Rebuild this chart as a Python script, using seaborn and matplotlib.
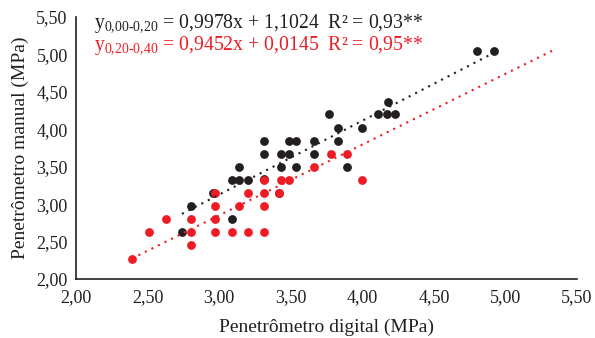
# scatter of manual vs digital penetrometer with dotted trend lines.

import matplotlib
matplotlib.use('Agg')
import matplotlib.pyplot as plt
import numpy as np
import pandas as pd
import seaborn as sns

# layer 0,00-0,20 m (black)
x_top = [3.31, 3.49, 3.54, 3.66, 3.83, 3.31, 3.43, 3.49, 3.66, 3.14, 3.43, 3.54,
         3.89, 3.09, 3.14, 3.20, 3.31, 2.96, 3.42, 2.80, 3.09, 2.74, 3.77, 3.83,
         4.00, 4.11, 4.17, 4.23, 4.18, 4.80, 4.92]
y_top = [3.84, 3.84, 3.84, 3.84, 3.84, 3.67, 3.67, 3.67, 3.67, 3.50, 3.50, 3.50,
         3.50, 3.32, 3.32, 3.32, 3.33, 3.15, 3.15, 2.97, 2.80, 2.63, 4.20, 4.02,
         4.02, 4.20, 4.20, 4.20, 4.37, 5.05, 5.05]

# layer 0,20-0,40 m (red)
x_sub = [2.39, 2.51, 2.63, 2.80, 2.80, 2.80, 2.97, 2.97, 2.97, 2.97, 3.09, 3.14,
         3.20, 3.20, 3.31, 3.31, 3.31, 3.31, 3.42, 3.43, 3.49, 3.78, 3.89, 3.66,
         4.00]
y_sub = [2.27, 2.63, 2.80, 2.45, 2.63, 2.80, 2.63, 2.80, 2.97, 3.15, 2.63, 2.97,
         3.15, 2.63, 2.63, 2.97, 3.15, 3.32, 3.15, 3.32, 3.32, 3.67, 3.67, 3.50,
         3.32]

# red trend as printed on the chart
sub_slope, sub_icpt = 0.9452, 0.0145

eq_top = r'$\mathrm{y}_{\text{0,00-0,20}}$ = 0,9978x + 1,1024  R² = 0,93**'
eq_sub = r'$\mathrm{y}_{\text{0,20-0,40}}$ = 0,9452x + 0,0145  R² = 0,95**'

BLACK = '#231f20'
RED = '#ed1c24'

sns.set_style('white')
plt.rcParams['font.family'] = ['Liberation Serif', 'DejaVu Serif']
plt.rcParams['mathtext.fontset'] = 'custom'
plt.rcParams['mathtext.rm'] = 'Liberation Serif'
plt.rcParams['mathtext.it'] = 'Liberation Serif:italic'

df_top = pd.DataFrame({'x': x_top, 'y': y_top})
df_sub = pd.DataFrame({'x': x_sub, 'y': y_sub})

fig = plt.figure(figsize=(5.95, 3.38), dpi=100)
ax = fig.add_axes([76 / 595, 1 - 279 / 338, (577 - 76) / 595, (279 - 17) / 338])

sns.scatterplot(data=df_top, x='x', y='y', color=BLACK, s=40, linewidth=0, ax=ax, zorder=2)
sns.scatterplot(data=df_sub, x='x', y='y', color=RED, s=40, linewidth=0, ax=ax, zorder=3)

# trend lines
k1, b1 = np.polyfit(x_top, y_top, 1)
xs1 = np.array([min(x_top), max(x_top)])
ax.plot(xs1, k1 * xs1 + b1, color=BLACK, lw=1.5, linestyle=(0, (1, 2.5)), zorder=4)
xs2 = np.array([min(x_sub), 5.35])
ax.plot(xs2, sub_slope * xs2 + sub_icpt, color=RED, lw=1.5, linestyle=(0, (1, 2.5)), zorder=4)

ax.text(0.035, 0.975, eq_top, transform=ax.transAxes, color=BLACK, fontsize=14.2, va='center')
ax.text(0.035, 0.89, eq_sub, transform=ax.transAxes, color=RED, fontsize=14.2, va='center')

ax.set_xlim(2.0, 5.5)
ax.set_ylim(2.0, 5.5)
ticks = np.arange(2.0, 5.51, 0.5)
ax.set_xticks(ticks)
ax.set_yticks(ticks)
ax.set_xticklabels([f'{t:.2f}'.replace('.', ',') for t in ticks])
ax.set_yticklabels([f'{t:.2f}'.replace('.', ',') for t in ticks])
ax.tick_params(length=0, labelsize=13, colors=BLACK)
ax.tick_params(axis='x', pad=7)
ax.tick_params(axis='y', pad=6)

ax.set_xlabel('Penetrômetro digital (MPa)', fontsize=14, color=BLACK, labelpad=9)
ax.set_ylabel('Penetrômetro manual (MPa)', fontsize=14, color=BLACK, labelpad=5)

for side in ['top', 'right']:
    ax.spines[side].set_visible(False)
for side in ['left', 'bottom']:
    ax.spines[side].set_color(BLACK)
    ax.spines[side].set_linewidth(1.2)

fig.savefig('out.png', dpi=100)
